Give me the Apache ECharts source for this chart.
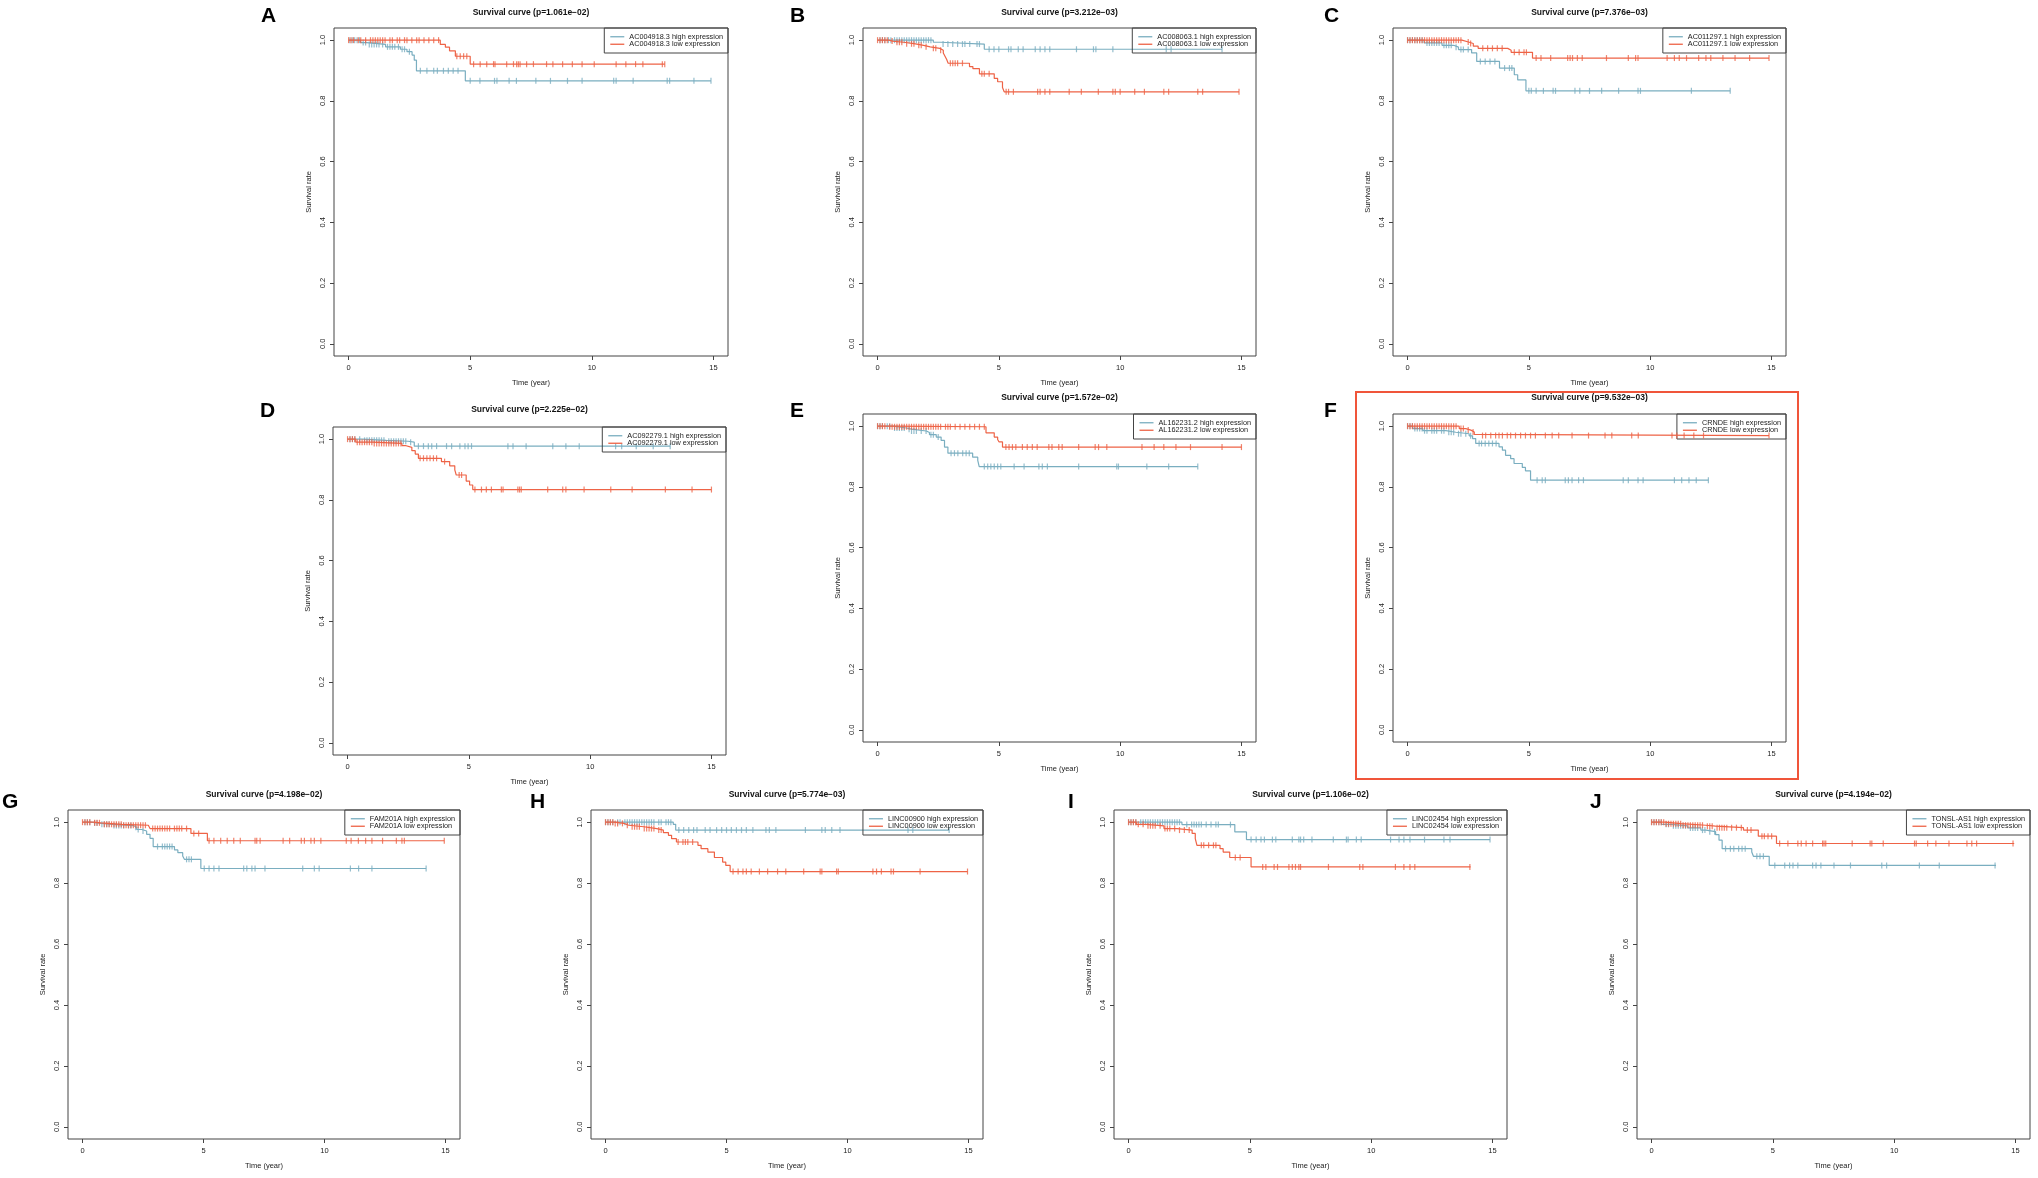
<!DOCTYPE html>
<html>
<head>
<meta charset="utf-8">
<script src="https://cdn.jsdelivr.net/npm/echarts@6.0.0/dist/echarts.min.js"></script>
<style>
html, body { margin: 0; padding: 0; background: #fff; }
#main { width: 2038px; height: 1178px; }
</style>
</head>
<body>
<div id="main"></div>
<script>
// axis ticks
var timeTicks = [0, 5, 10, 15];
var rateTicks = [0, 0.2, 0.4, 0.6, 0.8, 1.0];

var panelLetters = ['A', 'B', 'C', 'D', 'E', 'F', 'G', 'H', 'I', 'J'];
var geneNames = ['AC004918.3', 'AC008063.1', 'AC011297.1', 'AC092279.1', 'AL162231.2',
    'CRNDE', 'FAM201A', 'LINC00900', 'LINC02454', 'TONSL-AS1'];
var pValues = ['1.061e\u221202', '3.212e\u221203', '7.376e\u221203', '2.225e\u221202', '1.572e\u221202',
    '9.532e\u221203', '4.198e\u221202', '5.774e\u221203', '1.106e\u221202', '4.194e\u221202'];

// Kaplan-Meier steps [time, survival] and censored times, per panel
var aHighSteps = [[0, 1], [0.49, 0.992], [0.74, 0.986], [1.52, 0.978], [2.13, 0.970], [2.40, 0.962], [2.61, 0.951], [2.70, 0.934], [2.79, 0.899], [4.80, 0.866], [14.9, 0.866]];
var aHighCens = [0.05, 0.15, 0.25, 0.35, 0.45, 0.6, 0.7, 0.85, 0.95, 1.05, 1.15, 1.25, 1.4, 1.6, 1.7, 1.8, 1.9, 2.05, 2.2, 2.3, 2.5, 2.95, 3.22, 3.5, 3.65, 3.9, 4.1, 4.3, 4.5, 5.0, 5.4, 6.0, 6.1, 6.6, 6.9, 7.7, 8.3, 9.0, 9.6, 10.9, 11.0, 11.7, 13.1, 13.2, 14.2, 14.9];
var aLowSteps = [[0, 1], [3.77, 0.986], [3.98, 0.977], [4.15, 0.965], [4.39, 0.947], [5.0, 0.921], [13.0, 0.921]];
var aLowCens = [0.0, 0.1, 0.2, 0.4, 0.5, 0.7, 0.9, 1.0, 1.1, 1.2, 1.3, 1.4, 1.5, 1.7, 1.8, 2.0, 2.1, 2.3, 2.4, 2.6, 2.8, 2.9, 3.1, 3.3, 3.5, 3.7, 4.45, 4.59, 4.73, 4.86, 5.14, 5.41, 5.68, 5.96, 6.02, 6.5, 6.78, 6.91, 6.98, 7.05, 7.32, 7.6, 8.14, 8.4, 8.8, 9.2, 9.6, 10.1, 11.0, 11.4, 11.8, 12.1, 12.9, 13.0];

var bHighSteps = [[0, 1], [2.3, 0.993], [2.6, 0.987], [4.4, 0.970], [14.2, 0.970]];
var bHighCens = [0.1, 0.2, 0.3, 0.45, 0.55, 0.7, 0.8, 0.9, 1.0, 1.1, 1.2, 1.3, 1.4, 1.5, 1.6, 1.7, 1.8, 1.9, 2.0, 2.1, 2.2, 2.7, 2.9, 3.1, 3.3, 3.5, 3.6, 3.8, 4.1, 4.2, 4.6, 4.8, 5.0, 5.4, 5.5, 5.8, 6.0, 6.5, 6.7, 6.9, 7.1, 8.2, 8.9, 9.0, 9.7, 11.9, 12.1, 14.2];
var bLowSteps = [[0, 1], [0.47, 0.997], [0.61, 0.993], [1.08, 0.988], [1.56, 0.983], [1.90, 0.978], [2.17, 0.973], [2.57, 0.967], [2.71, 0.958], [2.78, 0.947], [2.85, 0.936], [2.91, 0.924], [3.79, 0.913], [3.93, 0.906], [4.2, 0.889], [4.81, 0.874], [4.95, 0.863], [5.15, 0.844], [5.22, 0.830], [14.9, 0.830]];
var bLowCens = [0.0, 0.1, 0.2, 0.3, 0.4, 0.6, 0.8, 0.9, 1.0, 1.2, 1.4, 1.5, 1.7, 1.8, 2.0, 2.3, 2.4, 2.6, 3.0, 3.1, 3.2, 3.3, 3.5, 4.3, 4.4, 4.6, 5.3, 5.4, 5.6, 6.6, 6.7, 6.9, 7.1, 7.9, 8.4, 9.1, 9.7, 9.8, 10.0, 10.6, 11.0, 11.8, 12.0, 13.2, 13.4, 14.9];

var cHighSteps = [[0, 1], [0.68, 0.991], [1.42, 0.983], [1.90, 0.977], [2.10, 0.969], [2.64, 0.958], [2.85, 0.930], [3.79, 0.908], [4.40, 0.886], [4.54, 0.869], [4.88, 0.833], [13.3, 0.833]];
var cHighCens = [0.0, 0.1, 0.2, 0.3, 0.4, 0.5, 0.6, 0.8, 0.9, 1.0, 1.1, 1.2, 1.3, 1.5, 1.6, 1.7, 1.8, 2.0, 2.2, 2.3, 2.5, 3.0, 3.2, 3.4, 3.6, 4.0, 4.2, 4.3, 5.0, 5.1, 5.3, 5.6, 6.0, 6.1, 6.9, 7.1, 7.5, 8.0, 8.7, 9.5, 9.6, 11.7, 13.3];
var cLowSteps = [[0, 1], [2.24, 0.994], [2.51, 0.989], [2.71, 0.980], [2.91, 0.973], [4.13, 0.967], [4.27, 0.960], [5.15, 0.941], [14.9, 0.941]];
var cLowCens = [0.0, 0.1, 0.2, 0.3, 0.4, 0.5, 0.6, 0.7, 0.8, 0.9, 1.0, 1.1, 1.2, 1.3, 1.4, 1.5, 1.6, 1.7, 1.8, 1.9, 2.0, 2.1, 2.2, 2.5, 2.6, 3.1, 3.3, 3.5, 3.7, 3.9, 4.4, 4.6, 4.8, 4.9, 5.3, 5.5, 5.9, 6.6, 6.7, 6.8, 7.0, 7.2, 8.2, 9.1, 9.4, 9.5, 10.7, 11.0, 11.2, 11.5, 12.0, 12.3, 12.5, 13.0, 13.5, 14.1, 14.9];

var dHighSteps = [[0, 1], [0.6, 0.996], [1.6, 0.993], [2.5, 0.990], [2.75, 0.977], [13.3, 0.977]];
var dHighCens = [0.1, 0.2, 0.3, 0.5, 0.7, 0.8, 0.9, 1.0, 1.1, 1.2, 1.3, 1.4, 1.5, 1.7, 1.8, 1.9, 2.0, 2.1, 2.2, 2.3, 2.4, 2.6, 2.92, 3.13, 3.33, 3.47, 3.67, 4.08, 4.29, 4.63, 4.84, 4.97, 5.11, 6.61, 6.82, 7.36, 8.46, 9.0, 9.55, 11.05, 11.3, 11.9, 12.6, 13.3];
var dLowSteps = [[0, 1], [0.34, 0.990], [1.02, 0.986], [2.24, 0.979], [2.38, 0.973], [2.65, 0.962], [2.79, 0.951], [2.92, 0.937], [3.87, 0.926], [4.21, 0.912], [4.42, 0.899], [4.48, 0.882], [4.89, 0.862], [5.03, 0.849], [5.16, 0.834], [15.0, 0.834]];
var dLowCens = [0.0, 0.1, 0.2, 0.3, 0.4, 0.5, 0.6, 0.7, 0.8, 0.9, 1.0, 1.1, 1.2, 1.3, 1.4, 1.5, 1.6, 1.7, 1.8, 1.9, 2.0, 2.1, 2.2, 2.99, 3.13, 3.27, 3.4, 3.54, 3.67, 4.0, 4.6, 4.7, 5.25, 5.52, 5.72, 5.93, 6.34, 6.41, 7.02, 7.09, 7.16, 8.25, 8.87, 9.0, 9.75, 10.85, 11.73, 13.1, 14.2, 15.0];

var eHighSteps = [[0, 1], [0.64, 0.994], [1.19, 0.990], [1.39, 0.984], [2.01, 0.979], [2.14, 0.972], [2.42, 0.964], [2.62, 0.953], [2.76, 0.931], [2.90, 0.911], [3.92, 0.898], [4.13, 0.887], [4.19, 0.867], [13.2, 0.867]];
var eHighCens = [0.0, 0.1, 0.2, 0.4, 0.5, 0.7, 0.8, 0.9, 1.0, 1.1, 1.3, 1.4, 1.5, 1.6, 1.8, 2.0, 2.2, 2.3, 2.5, 3.03, 3.17, 3.31, 3.51, 3.65, 3.78, 4.40, 4.54, 4.67, 4.81, 4.95, 5.08, 5.63, 6.04, 6.65, 6.79, 7.0, 8.29, 9.86, 9.93, 11.1, 12.0, 13.2];
var eLowSteps = [[0, 1], [0.4, 0.998], [4.47, 0.978], [4.81, 0.964], [4.95, 0.956], [5.01, 0.948], [5.15, 0.931], [15.0, 0.931]];
var eLowCens = [0.0, 0.1, 0.2, 0.3, 0.5, 0.6, 0.7, 0.8, 0.9, 1.0, 1.1, 1.2, 1.3, 1.4, 1.5, 1.6, 1.7, 1.8, 1.9, 2.0, 2.1, 2.2, 2.3, 2.4, 2.5, 2.6, 2.8, 2.9, 3.0, 3.2, 3.4, 3.6, 3.8, 4.0, 4.2, 4.4, 5.29, 5.42, 5.56, 5.70, 5.97, 6.17, 6.38, 6.58, 7.06, 7.19, 7.47, 7.61, 8.29, 8.97, 9.11, 9.45, 10.9, 11.4, 11.8, 12.3, 12.9, 14.2, 15.0];

var fHighSteps = [[0, 1], [0.22, 0.992], [0.63, 0.985], [1.58, 0.980], [1.99, 0.975], [2.54, 0.968], [2.68, 0.959], [2.81, 0.943], [3.77, 0.932], [3.91, 0.921], [4.04, 0.904], [4.25, 0.893], [4.39, 0.877], [4.73, 0.864], [4.86, 0.853], [5.07, 0.822], [12.4, 0.822]];
var fHighCens = [0.0, 0.1, 0.2, 0.3, 0.4, 0.5, 0.6, 0.7, 0.8, 1.0, 1.1, 1.2, 1.4, 1.5, 1.7, 1.8, 1.9, 2.1, 2.2, 2.4, 2.6, 2.95, 3.05, 3.2, 3.35, 3.5, 3.65, 5.34, 5.55, 5.68, 6.5, 6.63, 6.78, 7.05, 7.25, 8.89, 9.1, 9.5, 9.71, 11.0, 11.3, 11.6, 11.9, 12.4];
var fLowSteps = [[0, 1], [2.13, 0.992], [2.40, 0.987], [2.61, 0.981], [2.75, 0.973], [2.81, 0.969], [14.9, 0.969]];
var fLowCens = [0.0, 0.1, 0.2, 0.3, 0.4, 0.5, 0.6, 0.7, 0.8, 0.9, 1.0, 1.1, 1.2, 1.3, 1.4, 1.5, 1.6, 1.7, 1.8, 1.9, 2.0, 2.2, 2.3, 2.5, 2.7, 3.09, 3.22, 3.43, 3.63, 3.77, 3.91, 4.11, 4.25, 4.45, 4.66, 4.86, 5.07, 5.27, 5.68, 5.96, 6.23, 6.78, 7.46, 8.14, 8.42, 9.24, 9.51, 10.9, 11.1, 11.4, 11.8, 12.2, 14.9];

var gHighSteps = [[0, 1], [0.34, 0.997], [0.68, 0.993], [1.22, 0.989], [2.11, 0.983], [2.24, 0.976], [2.45, 0.971], [2.65, 0.960], [2.79, 0.947], [2.92, 0.920], [3.80, 0.909], [3.94, 0.900], [4.14, 0.889], [4.21, 0.878], [4.89, 0.848], [14.2, 0.848]];
var gHighCens = [0.1, 0.2, 0.3, 0.5, 0.6, 0.8, 0.9, 1.0, 1.1, 1.3, 1.4, 1.5, 1.6, 1.7, 1.9, 2.0, 2.2, 2.3, 2.5, 3.1, 3.3, 3.4, 3.5, 3.6, 3.7, 4.3, 4.4, 4.5, 5.03, 5.23, 5.43, 5.64, 6.66, 6.79, 7.0, 7.13, 7.54, 9.1, 9.58, 9.78, 11.07, 11.41, 11.96, 14.2];
var gLowSteps = [[0, 1], [0.48, 0.998], [0.75, 0.993], [1.63, 0.990], [2.72, 0.985], [2.79, 0.979], [4.48, 0.963], [5.16, 0.939], [14.95, 0.939]];
var gLowCens = [0.0, 0.1, 0.2, 0.3, 0.5, 0.6, 0.7, 0.9, 1.0, 1.1, 1.2, 1.3, 1.4, 1.5, 1.6, 1.7, 1.8, 1.9, 2.0, 2.1, 2.2, 2.3, 2.4, 2.5, 2.6, 2.9, 3.0, 3.1, 3.2, 3.3, 3.4, 3.5, 3.6, 3.8, 3.9, 4.0, 4.1, 4.3, 4.6, 4.8, 5.23, 5.43, 5.71, 5.98, 6.25, 6.52, 7.13, 7.2, 7.34, 8.29, 8.56, 9.04, 9.17, 9.44, 9.58, 9.85, 10.9, 11.1, 11.4, 11.7, 11.96, 12.4, 12.97, 13.2, 13.3, 14.95];

var hHighSteps = [[0, 1], [2.8, 0.993], [2.9, 0.974], [14.2, 0.974]];
var hHighCens = [0.0, 0.1, 0.2, 0.3, 0.5, 0.6, 0.8, 0.9, 1.0, 1.1, 1.2, 1.3, 1.4, 1.5, 1.6, 1.7, 1.8, 1.9, 2.0, 2.2, 2.3, 2.5, 2.6, 2.7, 3.03, 3.23, 3.44, 3.64, 3.78, 4.12, 4.32, 4.59, 4.80, 5.0, 5.2, 5.41, 5.62, 5.82, 6.09, 6.63, 6.77, 7.04, 8.26, 8.94, 9.08, 9.35, 9.69, 12.5, 12.7, 14.2];
var hLowSteps = [[0, 1], [0.35, 0.996], [0.76, 0.990], [0.96, 0.985], [1.58, 0.979], [2.12, 0.974], [2.39, 0.966], [2.60, 0.957], [2.73, 0.946], [2.93, 0.935], [3.82, 0.924], [3.95, 0.913], [4.23, 0.902], [4.50, 0.884], [4.84, 0.869], [4.97, 0.858], [5.15, 0.838], [14.96, 0.838]];
var hLowCens = [0.0, 0.1, 0.2, 0.3, 0.4, 0.5, 0.7, 0.9, 1.1, 1.2, 1.3, 1.4, 1.6, 1.7, 1.8, 1.9, 2.0, 2.2, 2.3, 3.0, 3.2, 3.3, 3.4, 3.6, 5.27, 5.48, 5.68, 5.82, 6.02, 6.36, 6.7, 7.11, 7.45, 8.19, 8.87, 8.94, 9.55, 9.62, 11.05, 11.2, 11.4, 11.8, 11.9, 13.0, 14.96];

var iHighSteps = [[0, 1], [2.2, 0.992], [4.38, 0.968], [4.86, 0.943], [14.9, 0.943]];
var iHighCens = [0.0, 0.1, 0.2, 0.3, 0.5, 0.6, 0.7, 0.8, 0.9, 1.0, 1.1, 1.2, 1.3, 1.4, 1.5, 1.6, 1.7, 1.8, 1.9, 2.0, 2.1, 2.4, 2.6, 2.7, 2.8, 2.9, 3.0, 3.2, 3.4, 3.6, 3.7, 4.2, 5.05, 5.26, 5.46, 5.6, 5.93, 6.07, 6.75, 7.02, 7.09, 7.22, 7.56, 8.44, 8.98, 9.05, 9.39, 9.59, 10.8, 11.15, 11.35, 11.6, 12.2, 13.0, 13.25, 14.9];
var iLowSteps = [[0, 1], [0.32, 0.993], [0.72, 0.988], [1.46, 0.979], [2.0, 0.974], [2.62, 0.963], [2.75, 0.946], [2.82, 0.924], [3.77, 0.913], [3.90, 0.902], [4.17, 0.884], [5.05, 0.853], [14.1, 0.853]];
var iLowCens = [0.0, 0.1, 0.2, 0.3, 0.4, 0.6, 0.8, 0.9, 1.0, 1.1, 1.3, 1.5, 1.6, 1.7, 1.9, 2.1, 2.3, 2.5, 3.0, 3.1, 3.3, 3.5, 3.6, 4.4, 4.6, 5.53, 5.66, 6.0, 6.14, 6.61, 6.75, 6.88, 7.02, 7.09, 8.24, 9.53, 9.66, 11.0, 11.35, 11.6, 11.8, 14.07];

var jHighSteps = [[0, 1], [0.41, 0.993], [0.81, 0.988], [1.49, 0.981], [2.03, 0.974], [2.24, 0.969], [2.64, 0.959], [2.78, 0.941], [2.91, 0.913], [4.13, 0.902], [4.20, 0.888], [4.85, 0.858], [14.2, 0.858]];
var jHighCens = [0.0, 0.1, 0.2, 0.3, 0.4, 0.6, 0.7, 0.9, 1.0, 1.1, 1.2, 1.3, 1.4, 1.6, 1.7, 1.8, 1.9, 2.1, 2.2, 2.4, 2.6, 3.05, 3.25, 3.39, 3.59, 3.73, 3.86, 4.34, 4.47, 4.61, 5.08, 5.49, 5.69, 5.83, 6.03, 6.64, 6.78, 6.98, 7.52, 8.2, 9.49, 9.69, 11.04, 11.86, 14.16];
var jLowSteps = [[0, 1], [0.54, 0.995], [1.22, 0.990], [2.24, 0.987], [2.64, 0.982], [3.79, 0.974], [4.40, 0.954], [5.15, 0.930], [14.95, 0.930]];
var jLowCens = [0.0, 0.1, 0.2, 0.3, 0.4, 0.5, 0.6, 0.7, 0.8, 0.9, 1.0, 1.1, 1.2, 1.3, 1.4, 1.5, 1.6, 1.7, 1.8, 1.9, 2.0, 2.1, 2.3, 2.4, 2.5, 2.7, 2.8, 2.9, 3.0, 3.1, 3.3, 3.5, 3.7, 3.95, 4.1, 4.55, 4.65, 4.8, 4.95, 5.28, 5.62, 6.03, 6.17, 6.37, 6.64, 7.05, 7.11, 7.18, 8.27, 9.01, 9.08, 9.55, 10.84, 10.91, 11.38, 11.72, 12.26, 13.0, 13.2, 13.4, 14.9];

var highSteps = [aHighSteps, bHighSteps, cHighSteps, dHighSteps, eHighSteps, fHighSteps, gHighSteps, hHighSteps, iHighSteps, jHighSteps];
var highCens = [aHighCens, bHighCens, cHighCens, dHighCens, eHighCens, fHighCens, gHighCens, hHighCens, iHighCens, jHighCens];
var lowSteps = [aLowSteps, bLowSteps, cLowSteps, dLowSteps, eLowSteps, fLowSteps, gLowSteps, hLowSteps, iLowSteps, jLowSteps];
var lowCens = [aLowCens, bLowCens, cLowCens, dLowCens, eLowCens, fLowCens, gLowCens, hLowCens, iLowCens, jLowCens];

// layout: plot box [left, top, width, height], title top, letter [left, top]
var boxes = [
    [334, 28, 394, 328], [863, 28, 393, 328], [1393, 28, 393, 328],
    [333, 427, 393, 328], [863, 414, 393, 328], [1393, 414, 393, 328],
    [68, 810, 392, 329], [591, 810, 392, 329], [1114, 810, 393, 329], [1637, 810, 393, 329]
];
var titleTops = [8, 8, 8, 405, 393, 393, 790, 790, 790, 790];
var letterPos = [[261, 6], [790, 6], [1324, 6], [260, 401], [790, 401], [1324, 401],
    [2, 792], [530, 792], [1068, 792], [1590, 792]];

var W = 2038;
var highColor = '#7aaec0';
var lowColor = '#ee6346';
var font = 'Liberation Sans, Arial, Helvetica, sans-serif';

function survAt(steps, t) {
    var s = steps[0][1];
    for (var k = 0; k < steps.length; k++) {
        if (steps[k][0] <= t) s = steps[k][1];
    }
    return s;
}

var dom = document.getElementById('main');
var myChart = echarts.init(dom, null, { renderer: 'canvas' });

var grids = [], xAxes = [], yAxes = [], series = [], legends = [], titles = [];

for (var i = 0; i < 10; i++) {
    var b = boxes[i];
    var hiName = geneNames[i] + ' high expression';
    var loName = geneNames[i] + ' low expression';

    grids.push({
        left: b[0], top: b[1], width: b[2], height: b[3],
        show: true, borderColor: '#444', borderWidth: 1, backgroundColor: 'transparent'
    });
    xAxes.push({
        gridIndex: i, type: 'value', min: -0.6, max: 15.6, position: 'bottom',
        name: 'Time (year)', nameLocation: 'middle', nameGap: 23,
        nameTextStyle: { fontSize: 7.5, color: '#222', fontFamily: font },
        axisLine: { show: false, onZero: false },
        splitLine: { show: false },
        axisTick: { show: true, length: 4, customValues: timeTicks, lineStyle: { color: '#444' } },
        axisLabel: { customValues: timeTicks, fontSize: 7.5, color: '#222', margin: 8, fontFamily: font }
    });
    yAxes.push({
        gridIndex: i, type: 'value', min: -0.04, max: 1.04, position: 'left',
        name: 'Survival rate', nameLocation: 'middle', nameGap: 21, nameRotate: 90,
        nameTextStyle: { fontSize: 7.5, color: '#222', fontFamily: font },
        axisLine: { show: false, onZero: false },
        splitLine: { show: false },
        axisTick: { show: true, length: 4, customValues: rateTicks, lineStyle: { color: '#444' } },
        axisLabel: {
            customValues: rateTicks, rotate: 90, fontSize: 7.5, color: '#222', margin: 7, fontFamily: font,
            formatter: function (v) { return v.toFixed(1); }
        }
    });

    series.push({
        name: hiName, type: 'line', xAxisIndex: i, yAxisIndex: i,
        data: highSteps[i], step: 'end', symbol: 'none',
        lineStyle: { color: highColor, width: 1.2 }, itemStyle: { color: highColor },
        silent: true, z: 3
    });
    series.push({
        name: loName, type: 'line', xAxisIndex: i, yAxisIndex: i,
        data: lowSteps[i], step: 'end', symbol: 'none',
        lineStyle: { color: lowColor, width: 1.2 }, itemStyle: { color: lowColor },
        silent: true, z: 4
    });
    series.push({
        name: geneNames[i] + ' high censored', type: 'scatter', xAxisIndex: i, yAxisIndex: i,
        data: highCens[i].map(function (t) { return [t, survAt(highSteps[i], t)]; }),
        symbol: 'rect', symbolSize: [1.2, 6], itemStyle: { color: highColor }, silent: true, z: 3
    });
    series.push({
        name: geneNames[i] + ' low censored', type: 'scatter', xAxisIndex: i, yAxisIndex: i,
        data: lowCens[i].map(function (t) { return [t, survAt(lowSteps[i], t)]; }),
        symbol: 'rect', symbolSize: [1.2, 6], itemStyle: { color: lowColor }, silent: true, z: 4
    });

    legends.push({
        data: [hiName, loName], orient: 'vertical',
        right: W - (b[0] + b[2]), top: b[1],
        icon: 'rect', itemWidth: 14, itemHeight: 1.3, itemGap: 0,
        padding: [5, 5, 5, 6],
        borderColor: '#444', borderWidth: 1, borderRadius: 0,
        selectedMode: false,
        textStyle: { fontSize: 7.3, lineHeight: 7.5, color: '#222', fontFamily: font }
    });

    titles.push({
        text: 'Survival curve (p=' + pValues[i] + ')',
        left: b[0] + b[2] / 2, top: titleTops[i], textAlign: 'center', padding: 0,
        textStyle: { fontSize: 8.5, fontWeight: 'bold', color: '#111', fontFamily: font }
    });
    titles.push({
        text: panelLetters[i], left: letterPos[i][0], top: letterPos[i][1], padding: 0,
        textStyle: { fontSize: 21, fontWeight: 'bold', color: '#000', fontFamily: font }
    });
}

var option = {
    backgroundColor: '#ffffff',
    animation: false,
    textStyle: { fontFamily: font },
    title: titles,
    legend: legends,
    grid: grids,
    xAxis: xAxes,
    yAxis: yAxes,
    series: series,
    graphic: [{
        type: 'rect', z: 100,
        shape: { x: 1356, y: 392, width: 442, height: 387 },
        style: { fill: 'none', stroke: '#f0553a', lineWidth: 2 }
    }]
};

if (option && typeof option === 'object') {
    myChart.setOption(option);
}

window.addEventListener('resize', myChart.resize);
</script>
</body>
</html>
